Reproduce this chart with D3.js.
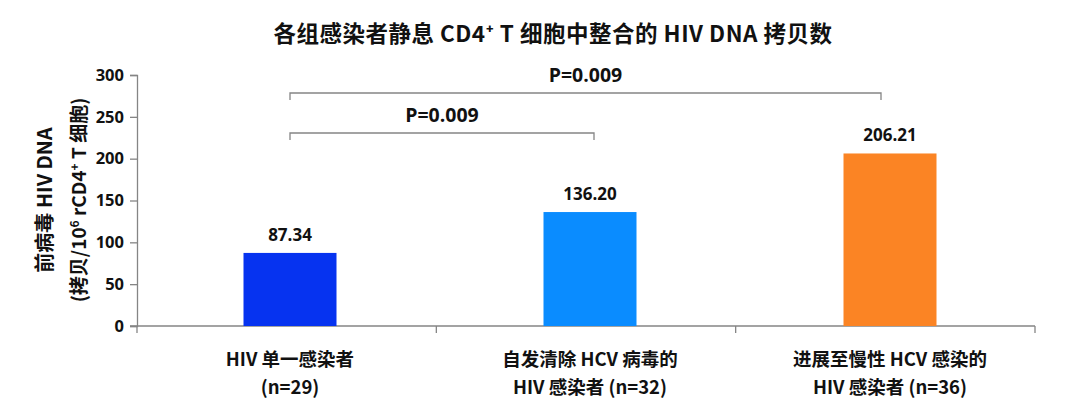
<!DOCTYPE html>
<html><head><meta charset="utf-8">
<script src="https://cdn.jsdelivr.net/npm/d3@7"></script>
<style>
body{margin:0;background:#fff;}
text{font-family:"Noto Sans CJK SC","Noto Sans",sans-serif;}
</style></head>
<body><svg id="c" width="1080" height="409"></svg>
<script>
const title = "各组感染者静息 CD4⁺ T 细胞中整合的 HIV DNA 拷贝数";
const categoriesLine1 = ["HIV 单一感染者", "自发清除 HCV 病毒的", "进展至慢性 HCV 感染的"];
const categoriesLine2 = ["(n=29)", "HIV 感染者 (n=32)", "HIV 感染者 (n=36)"];
const values = [87.34, 136.20, 206.21];
const valueLabels = ["87.34", "136.20", "206.21"];
const colors = ["#0633f0", "#0a8cff", "#fb8424"];
const yTicks = [0, 50, 100, 150, 200, 250, 300];
const comparisons = [
  {from: 0, to: 1, level: 133, label: "P=0.009"},
  {from: 0, to: 2, level: 93, label: "P=0.009"}
];
const yTitle1 = "前病毒 HIV DNA";

const svg = d3.select("#c");
const x0 = 137, x1 = 1035, yBottom = 326, yTop = 75;
const x = d3.scaleBand().domain(d3.range(values.length)).range([140, 1040]).paddingInner(0.69).paddingOuter(0.345);
const y = d3.scaleLinear().domain([0, 300]).range([yBottom, yTop]);
const latin = "'Open Sans','Noto Sans',sans-serif";

// title
svg.append("text").attr("x", 553).attr("y", 42).attr("text-anchor", "middle")
  .attr("font-size", 22.5).attr("font-weight", 700).attr("letter-spacing", 0.5)
  .attr("fill", "#111").text(title);

// y axis
const ya = svg.append("g").attr("transform", `translate(${x0},0)`)
  .call(d3.axisLeft(y).tickValues(yTicks).tickSize(7).tickPadding(6));
ya.select(".domain").attr("stroke", "#858585").attr("stroke-width", 1.3);
ya.selectAll(".tick line").attr("stroke", "#858585").attr("stroke-width", 1.3);
ya.selectAll(".tick text").attr("font-size", 16.5).attr("font-weight", 700).attr("fill", "#111")
  .style("font-family", latin);

// x axis
const xa = svg.append("g").attr("transform", `translate(0,${yBottom})`);
xa.append("line").attr("x1", x0 - 7).attr("x2", x1).attr("y1", 0).attr("y2", 0)
  .attr("stroke", "#858585").attr("stroke-width", 1.3);
const step = (x1 - x0) / values.length;
xa.selectAll("line.t").data(d3.range(values.length + 1)).join("line").attr("class", "t")
  .attr("x1", i => x0 + i * step).attr("x2", i => x0 + i * step)
  .attr("y1", 0).attr("y2", 7).attr("stroke", "#858585").attr("stroke-width", 1.3);

// bars
svg.selectAll("rect.bar").data(values).join("rect").attr("class", "bar")
  .attr("x", (d, i) => x(i)).attr("width", x.bandwidth())
  .attr("y", d => y(d)).attr("height", d => yBottom - y(d))
  .attr("fill", (d, i) => colors[i]);

// value labels
svg.selectAll("text.val").data(values).join("text").attr("class", "val")
  .attr("x", (d, i) => x(i) + x.bandwidth() / 2).attr("y", d => y(d) - 12)
  .attr("text-anchor", "middle").attr("font-size", 17).attr("font-weight", 700).attr("fill", "#111")
  .style("font-family", latin)
  .text((d, i) => valueLabels[i]);

// category labels
const cx = i => x(i) + x.bandwidth() / 2;
svg.selectAll("text.c1").data(categoriesLine1).join("text").attr("class", "c1")
  .attr("x", (d, i) => cx(i)).attr("y", 366).attr("text-anchor", "middle")
  .attr("font-size", 18.5).attr("font-weight", 700).attr("fill", "#111").text(d => d);
svg.selectAll("text.c2").data(categoriesLine2).join("text").attr("class", "c2")
  .attr("x", (d, i) => cx(i)).attr("y", 394).attr("text-anchor", "middle")
  .attr("font-size", 18.5).attr("font-weight", 700).attr("fill", "#111").text(d => d);

// comparison brackets (right ends sit slightly inside the bar centre, as in the reference)
comparisons.forEach(c => {
  const xa_ = x(c.from) + x.bandwidth() / 2;
  const xb_ = x(c.to) + x.bandwidth() / 2 + (c.to === 2 ? -9 : 4);
  svg.append("path").attr("d", `M${xa_},${c.level + 7}V${c.level}H${xb_}V${c.level + 7}`)
    .attr("fill", "none").attr("stroke", "#858585").attr("stroke-width", 1.3);
  svg.append("text").attr("x", (xa_ + xb_) / 2).attr("y", c.level - 11).attr("text-anchor", "middle")
    .attr("font-size", 19.5).attr("font-weight", 700).attr("fill", "#111")
    .style("font-family", latin).text(c.label);
});

// y title
const yt = svg.append("g").attr("transform", "translate(0,200) rotate(-90)");
yt.append("text").attr("x", 0).attr("y", 52).attr("text-anchor", "middle")
  .attr("font-size", 20).attr("font-weight", 700).attr("fill", "#111").text(yTitle1);
const t2 = yt.append("text").attr("x", 0).attr("y", 86).attr("text-anchor", "middle")
  .attr("font-size", 19).attr("font-weight", 700).attr("fill", "#111");
t2.append("tspan").text("(拷贝/10");
t2.append("tspan").attr("dy", -7).attr("font-size", 12).text("6");
t2.append("tspan").attr("dy", 7).text(" rCD4");
t2.append("tspan").attr("dy", -7).attr("font-size", 12).text("+");
t2.append("tspan").attr("dy", 7).text(" T 细胞)");
</script></body></html>
